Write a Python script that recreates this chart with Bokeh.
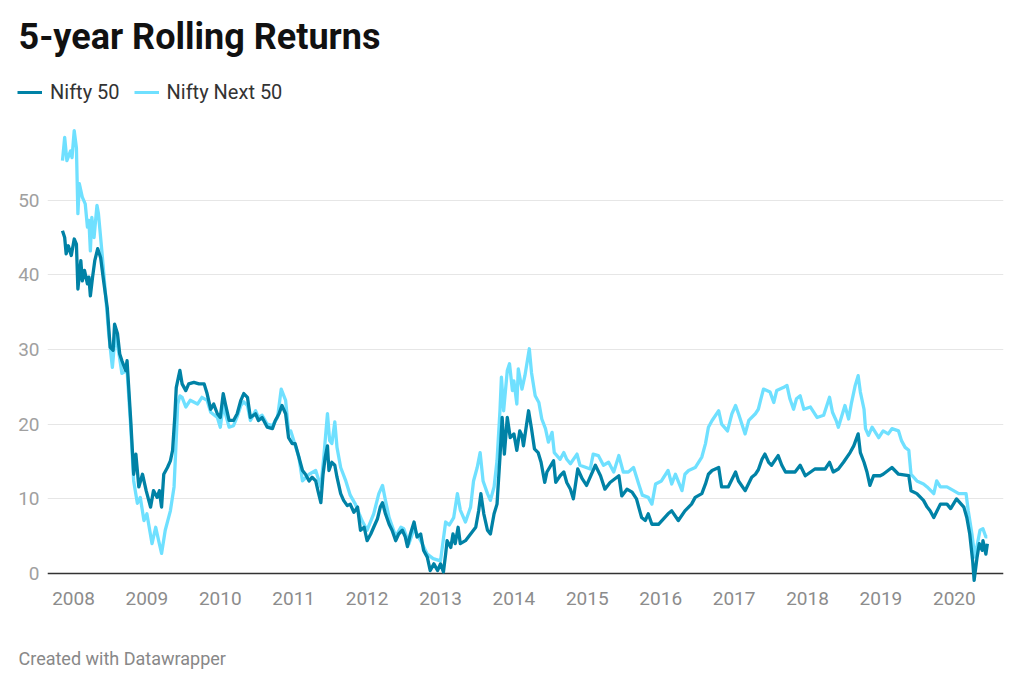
from bokeh.plotting import figure
from bokeh.models import (Range1d, FixedTicker, Span, Label, Legend, LegendItem)
from bokeh.embed import file_html
from bokeh.resources import INLINE

# 5-year rolling returns (%), time as decimal year
nifty50_t = [2007.85, 2007.88, 2007.90, 2007.93, 2007.97, 2008.01, 2008.04, 2008.06, 2008.10, 2008.12,
             2008.15, 2008.19, 2008.21, 2008.23, 2008.26, 2008.29, 2008.33, 2008.37, 2008.41, 2008.46,
             2008.50, 2008.54, 2008.56, 2008.60, 2008.63, 2008.66, 2008.71, 2008.73, 2008.78, 2008.82,
             2008.85, 2008.89, 2008.94, 2008.99, 2009.05, 2009.09, 2009.14, 2009.17, 2009.20, 2009.23,
             2009.28, 2009.32, 2009.35, 2009.38, 2009.40, 2009.43, 2009.45, 2009.48, 2009.53, 2009.57,
             2009.64, 2009.71, 2009.78, 2009.82, 2009.87, 2009.91, 2009.96, 2010.00, 2010.04, 2010.07,
             2010.12, 2010.18, 2010.23, 2010.28, 2010.32, 2010.37, 2010.41, 2010.48, 2010.52, 2010.57,
             2010.64, 2010.71, 2010.75, 2010.80, 2010.84, 2010.89, 2010.93, 2010.98, 2011.02, 2011.07,
             2011.12, 2011.16, 2011.21, 2011.25, 2011.30, 2011.33, 2011.37, 2011.40, 2011.43, 2011.46,
             2011.48, 2011.52, 2011.56, 2011.59, 2011.64, 2011.68, 2011.73, 2011.77, 2011.82, 2011.87,
             2011.91, 2011.96, 2012.00, 2012.05, 2012.09, 2012.14, 2012.18, 2012.21, 2012.25, 2012.30,
             2012.34, 2012.39, 2012.43, 2012.48, 2012.52, 2012.55, 2012.59, 2012.64, 2012.68, 2012.73,
             2012.77, 2012.82, 2012.86, 2012.91, 2012.96, 2013.00, 2013.04, 2013.07, 2013.09, 2013.14,
             2013.17, 2013.20, 2013.24, 2013.27, 2013.34, 2013.41, 2013.48, 2013.52, 2013.55, 2013.59,
             2013.64, 2013.68, 2013.73, 2013.77, 2013.81, 2013.84, 2013.87, 2013.91, 2013.95, 2014.00,
             2014.04, 2014.08, 2014.11, 2014.13, 2014.20, 2014.24, 2014.28, 2014.33, 2014.37, 2014.42,
             2014.45, 2014.54, 2014.57, 2014.63, 2014.68, 2014.72, 2014.77, 2014.81, 2014.87, 2014.93,
             2014.99, 2015.11, 2015.18, 2015.24, 2015.31, 2015.43, 2015.47, 2015.54, 2015.61, 2015.67,
             2015.72, 2015.74, 2015.79, 2015.83, 2015.88, 2015.97, 2016.10, 2016.15, 2016.24, 2016.33,
             2016.42, 2016.47, 2016.56, 2016.61, 2016.65, 2016.70, 2016.79, 2016.83, 2016.92, 2017.02,
             2017.06, 2017.15, 2017.24, 2017.29, 2017.33, 2017.38, 2017.42, 2017.47, 2017.51, 2017.60,
             2017.65, 2017.70, 2017.83, 2017.90, 2017.97, 2018.10, 2018.24, 2018.30, 2018.35, 2018.42,
             2018.49, 2018.58, 2018.63, 2018.69, 2018.72, 2018.77, 2018.81, 2018.85, 2018.90, 2018.99,
             2019.03, 2019.15, 2019.24, 2019.38, 2019.41, 2019.49, 2019.58, 2019.63, 2019.67, 2019.72,
             2019.81, 2019.90, 2019.95, 2020.03, 2020.13, 2020.17, 2020.21, 2020.25, 2020.27, 2020.31,
             2020.34, 2020.38, 2020.39, 2020.43, 2020.45]
nifty50_v = [45.9, 45.0, 42.8, 43.9, 42.6, 44.8, 44.1, 38.1, 41.9, 39.2,
             40.6, 38.8, 39.7, 37.2, 39.7, 41.9, 43.5, 42.3, 39.2, 35.6,
             30.3, 29.9, 33.4, 32.1, 29.4, 28.5, 27.2, 28.5, 20.5, 13.3,
             16.0, 11.6, 13.3, 11.1, 8.9, 11.1, 10.2, 11.1, 8.9, 13.3,
             14.2, 15.1, 16.5, 21.0, 24.9, 26.3, 27.2, 25.4, 24.5, 25.4,
             25.6, 25.4, 25.4, 24.1, 22.0, 22.7, 21.4, 20.9, 24.1, 22.7,
             20.5, 20.5, 21.4, 23.2, 24.1, 23.6, 20.9, 21.4, 20.5, 20.9,
             19.6, 19.4, 20.5, 21.4, 22.5, 21.4, 18.2, 17.4, 17.4, 15.6,
             13.8, 13.3, 12.4, 12.9, 12.4, 11.1, 9.5, 13.3, 15.6, 17.1,
             13.8, 14.9, 14.5, 12.9, 10.7, 9.8, 9.1, 9.3, 8.2, 8.9,
             5.8, 6.2, 4.4, 5.3, 6.2, 7.3, 8.9, 9.5, 8.0, 6.6,
             5.8, 4.4, 5.3, 5.8, 4.9, 3.6, 5.3, 6.9, 4.9, 5.3,
             3.1, 2.2, 0.4, 1.3, 0.4, 1.3, 0.2, 2.6, 4.4, 3.5,
             5.3, 4.0, 6.2, 4.0, 4.4, 5.3, 6.2, 8.4, 10.7, 8.0,
             5.8, 5.3, 8.0, 9.3, 15.6, 20.9, 16.0, 20.9, 18.2, 18.7,
             16.5, 19.1, 18.5, 17.1, 21.8, 19.4, 16.7, 16.2, 14.9, 12.2,
             13.6, 15.1, 12.2, 13.1, 13.6, 12.2, 11.3, 10.0, 14.0, 12.7,
             11.8, 14.5, 13.1, 11.3, 12.2, 13.1, 10.4, 11.3, 10.9, 10.0,
             8.2, 7.5, 7.1, 8.0, 6.6, 6.6, 8.0, 8.4, 7.1, 8.4,
             9.3, 10.2, 10.7, 12.0, 13.3, 13.8, 14.2, 11.6, 11.6, 13.6,
             12.4, 11.1, 12.9, 13.3, 13.9, 15.3, 16.0, 14.9, 14.5, 15.8,
             14.5, 13.6, 13.6, 14.5, 13.1, 14.0, 14.0, 14.9, 13.6, 14.0,
             14.9, 16.2, 17.1, 18.7, 16.2, 14.9, 13.6, 11.8, 13.1, 13.1,
             13.3, 14.2, 13.3, 13.1, 11.1, 10.7, 9.8, 8.9, 8.4, 7.5,
             9.3, 9.3, 8.7, 10.0, 8.9, 7.5, 5.3, 1.7, -0.9, 2.2,
             4.0, 3.1, 4.4, 2.6, 4.0]

next50_t = [2007.85, 2007.88, 2007.91, 2007.96, 2007.98, 2008.01, 2008.04, 2008.06, 2008.08, 2008.12,
            2008.16, 2008.19, 2008.21, 2008.23, 2008.25, 2008.28, 2008.32, 2008.34, 2008.39, 2008.44,
            2008.48, 2008.53, 2008.57, 2008.62, 2008.66, 2008.73, 2008.78, 2008.82, 2008.87, 2008.91,
            2008.96, 2009.00, 2009.07, 2009.12, 2009.16, 2009.20, 2009.25, 2009.32, 2009.37, 2009.40,
            2009.42, 2009.45, 2009.48, 2009.53, 2009.59, 2009.69, 2009.75, 2009.82, 2009.87, 2009.96,
            2010.00, 2010.04, 2010.12, 2010.18, 2010.23, 2010.28, 2010.32, 2010.37, 2010.41, 2010.48,
            2010.52, 2010.57, 2010.64, 2010.71, 2010.78, 2010.83, 2010.89, 2010.93, 2010.96, 2011.07,
            2011.12, 2011.21, 2011.30, 2011.37, 2011.41, 2011.46, 2011.49, 2011.52, 2011.56, 2011.59,
            2011.64, 2011.71, 2011.77, 2011.84, 2011.93, 2012.00, 2012.09, 2012.16, 2012.21, 2012.25,
            2012.30, 2012.39, 2012.46, 2012.50, 2012.57, 2012.64, 2012.73, 2012.82, 2012.90, 2013.00,
            2013.07, 2013.12, 2013.18, 2013.23, 2013.27, 2013.34, 2013.41, 2013.45, 2013.50, 2013.54,
            2013.58, 2013.64, 2013.68, 2013.73, 2013.77, 2013.81, 2013.83, 2013.86, 2013.91, 2013.94,
            2013.98, 2014.00, 2014.04, 2014.06, 2014.11, 2014.15, 2014.21, 2014.24, 2014.29, 2014.34,
            2014.38, 2014.43, 2014.47, 2014.52, 2014.55, 2014.63, 2014.68, 2014.72, 2014.77, 2014.86,
            2014.90, 2015.04, 2015.08, 2015.15, 2015.22, 2015.29, 2015.36, 2015.43, 2015.49, 2015.56,
            2015.63, 2015.70, 2015.75, 2015.83, 2015.88, 2015.93, 2016.01, 2016.10, 2016.15, 2016.20,
            2016.29, 2016.33, 2016.38, 2016.47, 2016.56, 2016.61, 2016.65, 2016.70, 2016.79, 2016.83,
            2016.91, 2016.97, 2017.02, 2017.06, 2017.15, 2017.20, 2017.29, 2017.33, 2017.36, 2017.40,
            2017.49, 2017.54, 2017.58, 2017.67, 2017.72, 2017.76, 2017.81, 2017.85, 2017.90, 2017.95,
            2018.04, 2018.13, 2018.22, 2018.30, 2018.34, 2018.39, 2018.42, 2018.51, 2018.56, 2018.60,
            2018.65, 2018.69, 2018.72, 2018.77, 2018.79, 2018.83, 2018.88, 2018.97, 2019.03, 2019.10,
            2019.15, 2019.24, 2019.28, 2019.33, 2019.38, 2019.41, 2019.49, 2019.58, 2019.63, 2019.72,
            2019.76, 2019.81, 2019.90, 2019.99, 2020.06, 2020.16, 2020.19, 2020.24, 2020.28, 2020.35,
            2020.39, 2020.43, 2020.45]
next50_v = [55.3, 58.4, 55.3, 56.6, 55.7, 59.3, 57.0, 48.2, 52.2, 50.4,
            49.5, 46.4, 47.3, 43.2, 47.7, 45.0, 49.3, 48.2, 42.8, 37.0,
            32.1, 27.6, 32.1, 29.4, 26.8, 27.2, 19.6, 12.4, 9.4, 10.2,
            7.1, 8.0, 4.0, 6.2, 4.4, 2.7, 5.8, 8.4, 11.6, 18.0,
            22.7, 23.8, 23.6, 22.3, 23.2, 22.7, 23.6, 23.2, 21.6, 20.9,
            19.6, 22.5, 19.6, 19.8, 21.0, 22.5, 23.0, 22.5, 20.5, 21.8,
            20.9, 21.2, 20.0, 19.8, 20.9, 24.7, 23.2, 19.1, 19.1, 15.6,
            12.4, 13.3, 13.8, 11.6, 15.6, 21.4, 17.8, 17.4, 20.3, 16.9,
            14.2, 12.4, 10.5, 9.3, 7.1, 5.8, 8.0, 10.7, 11.8, 9.8,
            7.5, 5.0, 6.2, 6.0, 4.0, 6.0, 4.4, 2.6, 2.0, 1.7,
            6.9, 6.5, 7.5, 10.7, 8.5, 6.9, 8.9, 12.4, 14.2, 16.2,
            12.4, 10.7, 9.8, 11.6, 15.1, 21.8, 26.3, 21.8, 27.2, 28.1,
            24.5, 25.8, 22.7, 27.4, 24.7, 26.5, 30.1, 26.9, 23.8, 22.9,
            20.7, 19.4, 17.6, 18.9, 16.2, 15.3, 16.2, 15.3, 14.7, 16.0,
            14.5, 14.0, 16.0, 15.8, 14.5, 14.9, 13.6, 15.8, 13.6, 13.6,
            14.2, 12.0, 10.5, 10.2, 9.3, 12.0, 12.4, 13.8, 12.0, 13.3,
            11.1, 13.3, 13.8, 14.2, 15.6, 17.4, 19.6, 20.5, 21.8, 20.0,
            19.1, 21.4, 22.5, 21.4, 18.7, 20.5, 21.4, 22.0, 23.2, 24.7,
            24.3, 22.9, 24.5, 24.9, 25.2, 23.4, 22.0, 23.4, 23.8, 22.0,
            22.3, 20.9, 21.2, 23.6, 21.6, 20.5, 19.6, 22.5, 20.7, 22.9,
            25.2, 26.5, 24.3, 22.0, 19.4, 18.5, 19.6, 18.2, 19.1, 18.7,
            19.4, 19.1, 17.8, 16.9, 16.5, 13.3, 12.4, 12.0, 11.6, 10.7,
            12.4, 11.6, 11.6, 11.1, 10.7, 10.7, 8.4, 5.3, 2.2, 5.8,
            6.0, 4.9, 4.9]

y_ticks = [0, 10, 20, 30, 40, 50]
x_ticks = list(range(2008, 2021))

DARK = "#0082a6"
LIGHT = "#6fe0ff"
FONT = "Roboto"


def strip(fig):
    # a bare figure whose data units are pixels, for header and footer text
    fig.outline_line_color = None
    fig.grid.grid_line_color = None
    return fig


# header: title and legend
head = strip(figure(width=1016, height=110, output_backend="svg", toolbar_location=None,
                    x_range=Range1d(0, 1016), y_range=Range1d(110, 0),
                    x_axis_location=None, y_axis_location=None,
                    min_border_left=0, min_border_right=0, min_border_top=0, min_border_bottom=0))
head.add_layout(Label(x=18, y=36, text="5-year Rolling Returns", text_font=FONT,
                      text_font_size="36px", text_font_style="bold", text_color="#111111",
                      text_baseline="middle"))
# the series lie far outside the header's range; they only feed the legend keys
key_dark = head.line(nifty50_t, nifty50_v, line_color=DARK, line_width=3)
key_light = head.line(next50_t, next50_v, line_color=LIGHT, line_width=3)
legend = Legend(items=[LegendItem(label="Nifty 50", renderers=[key_dark]),
                       LegendItem(label="Nifty Next 50", renderers=[key_light])],
                orientation="horizontal", location=(17, 6))
legend.background_fill_alpha = 0
legend.border_line_color = None
legend.padding = 0
legend.margin = 0
legend.spacing = 14
legend.glyph_width = 25
legend.glyph_height = 20
legend.label_height = 20
legend.label_standoff = 8
legend.label_text_font = FONT
legend.label_text_font_size = "20px"
legend.label_text_color = "#333333"
head.add_layout(legend)

# main chart
p = figure(width=1016, height=510, output_backend="svg", toolbar_location=None,
           x_range=Range1d(2007.646, 2020.67), y_range=Range1d(-1.6, 60),
           min_border_left=47, min_border_right=13, min_border_top=15, min_border_bottom=35)
p.outline_line_color = None
p.background_fill_color = "white"

p.line(next50_t, next50_v, line_color=LIGHT, line_width=3.3, line_join="round")
p.line(nifty50_t, nifty50_v, line_color=DARK, line_width=3.3, line_join="round")

# baseline at zero
p.add_layout(Span(location=0, dimension="width", line_color="#333333", line_width=1.5, level="underlay"))

p.xgrid.grid_line_color = None
p.ygrid.grid_line_color = "#e6e6e6"
p.ygrid.grid_line_width = 1

p.yaxis.ticker = FixedTicker(ticks=y_ticks)
p.xaxis.ticker = FixedTicker(ticks=x_ticks)
for ax in (p.xaxis, p.yaxis):
    ax.axis_line_color = None
    ax.major_tick_line_color = None
    ax.minor_tick_line_color = None
    ax.major_tick_out = 0
    ax.major_label_text_font = FONT
    ax.major_label_text_font_size = "19px"
p.yaxis.major_label_text_color = "#a0a0a0"
p.yaxis.major_label_standoff = 8
p.xaxis.major_label_text_color = "#8c8c8c"
p.xaxis.major_label_standoff = 6

# footer
foot = strip(figure(width=1016, height=66, output_backend="svg", toolbar_location=None,
                    x_range=Range1d(0, 1016), y_range=Range1d(66, 0),
                    x_axis_location=None, y_axis_location=None,
                    min_border_left=0, min_border_right=0, min_border_top=0, min_border_bottom=0))
foot.add_layout(Label(x=18, y=38, text="Created with Datawrapper", text_font=FONT,
                      text_font_size="18px", text_color="#888888", text_baseline="middle"))

open("out.html", "w").write(file_html([head, p, foot], INLINE))
